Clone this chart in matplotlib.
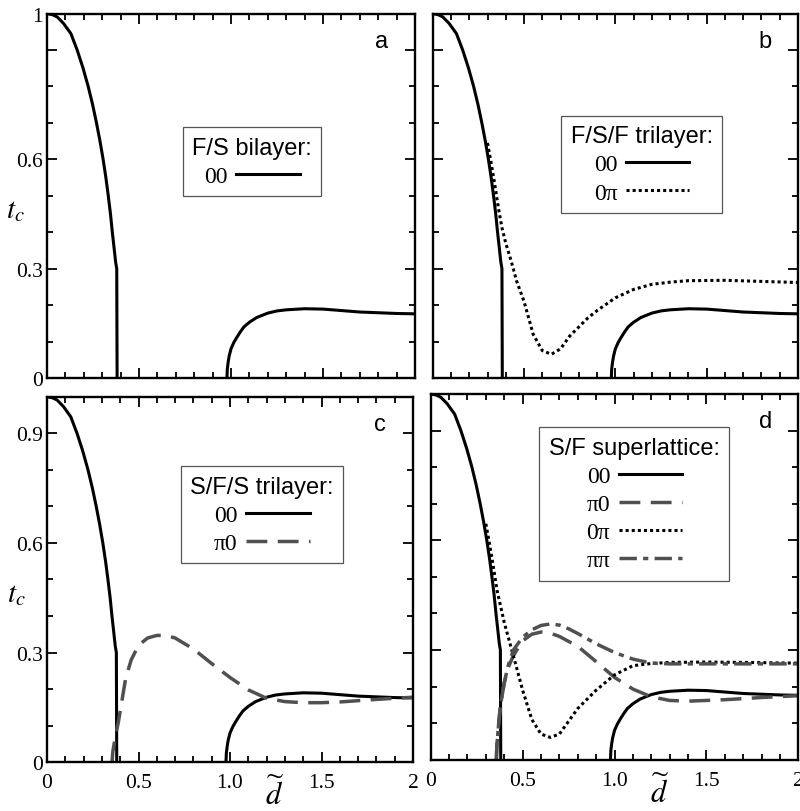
import matplotlib
matplotlib.use("Agg")
import matplotlib.pyplot as plt
from matplotlib.ticker import MultipleLocator
from matplotlib.lines import Line2D

plt.rcParams['font.family'] = ['Liberation Serif', 'DejaVu Serif']
plt.rcParams['mathtext.fontset'] = 'stix'

# 00 state (same in all panels)
d_00a = [0, 0.03, 0.055, 0.09, 0.13, 0.164, 0.195, 0.224, 0.248, 0.269, 0.288, 0.305, 0.32,
         0.333, 0.345, 0.355, 0.365, 0.373, 0.379, 0.381]
tc_00a = [1.0, 0.997, 0.991, 0.973, 0.945, 0.9, 0.852, 0.8, 0.75, 0.7, 0.65, 0.6, 0.55,
          0.5, 0.45, 0.4, 0.355, 0.318, 0.30, 0.0]
d_00b = [0.978, 0.98, 0.985, 0.99, 1.0, 1.015, 1.03, 1.05, 1.07, 1.1, 1.14, 1.2, 1.25, 1.3,
         1.4, 1.5, 1.6, 1.7, 1.8, 1.9, 2.0]
tc_00b = [0, 0.025, 0.045, 0.06, 0.08, 0.097, 0.11, 0.126, 0.14, 0.153, 0.166, 0.178, 0.184, 0.187,
          0.19, 0.189, 0.185, 0.181, 0.179, 0.177, 0.176]

# F/S/F trilayer, 0pi
d_0pi_b = [0.30, 0.32, 0.34, 0.36, 0.38, 0.40, 0.43, 0.46, 0.50, 0.55, 0.60, 0.65, 0.70, 0.75,
           0.80, 0.85, 0.90, 1.0, 1.1, 1.2, 1.3, 1.4, 1.6, 1.8, 2.0]
tc_0pi_b = [0.645, 0.59, 0.53, 0.465, 0.41, 0.37, 0.32, 0.265, 0.21, 0.12, 0.075, 0.065, 0.08, 0.115,
            0.14, 0.165, 0.185, 0.22, 0.243, 0.257, 0.263, 0.267, 0.268, 0.265, 0.262]

# S/F/S trilayer, pi0
d_pi0_c = [0.355, 0.36, 0.37, 0.38, 0.39, 0.41, 0.43, 0.46, 0.5, 0.55, 0.6, 0.65, 0.7, 0.8, 0.9,
           1.0, 1.1, 1.2, 1.3, 1.4, 1.5, 1.6, 1.8, 2.0]
tc_pi0_c = [0, 0.03, 0.06, 0.085, 0.11, 0.17, 0.23, 0.28, 0.32, 0.34, 0.347, 0.347, 0.34, 0.31, 0.27,
            0.232, 0.198, 0.175, 0.166, 0.163, 0.163, 0.165, 0.172, 0.178]

# S/F superlattice
d_pi0_d = [0.357, 0.36, 0.37, 0.38, 0.40, 0.42, 0.45, 0.5, 0.55, 0.6, 0.65, 0.7, 0.8, 0.9,
           1.0, 1.1, 1.2, 1.3, 1.4, 1.6, 1.8, 2.0]
tc_pi0_d = [0, 0.04, 0.10, 0.15, 0.21, 0.25, 0.285, 0.325, 0.343, 0.349, 0.346, 0.337, 0.31, 0.268,
            0.225, 0.193, 0.172, 0.162, 0.16, 0.164, 0.17, 0.175]
d_0pi_d = [0.30, 0.32, 0.34, 0.36, 0.38, 0.40, 0.43, 0.46, 0.50, 0.55, 0.60, 0.65, 0.70, 0.75,
           0.80, 0.85, 0.90, 1.0, 1.1, 1.2, 1.3, 1.5, 1.7, 2.0]
tc_0pi_d = [0.645, 0.59, 0.53, 0.465, 0.42, 0.375, 0.32, 0.265, 0.19, 0.11, 0.07, 0.061, 0.07, 0.105,
            0.14, 0.165, 0.19, 0.232, 0.257, 0.263, 0.266, 0.267, 0.266, 0.264]
d_pipi_d = [0.357, 0.36, 0.37, 0.38, 0.40, 0.42, 0.45, 0.5, 0.55, 0.6, 0.65, 0.7, 0.75, 0.8,
            0.9, 1.0, 1.1, 1.2, 1.3, 1.5, 1.7, 2.0]
tc_pipi_d = [0, 0.04, 0.10, 0.15, 0.21, 0.255, 0.30, 0.335, 0.355, 0.367, 0.371, 0.368, 0.358, 0.345,
             0.317, 0.293, 0.275, 0.264, 0.262, 0.262, 0.262, 0.262]

GRAY = '#505050'
LW = 2.2
solid = dict(color='black', lw=LW)
dashed = dict(color=GRAY, lw=2.5, dashes=(6, 3))
dotted = dict(color='black', lw=LW, dashes=(1, 1))
dashdot = dict(color=GRAY, lw=2.5, dashes=(5, 1.8, 1.5, 1.8))

fig = plt.figure(figsize=(8, 8.12), dpi=100)
ax_a = fig.add_axes([0.05875, 0.5333, 0.46, 0.4487])
ax_b = fig.add_axes([0.5409, 0.5333, 0.4566, 0.4487])
ax_c = fig.add_axes([0.05875, 0.0600, 0.4575, 0.4502])
ax_d = fig.add_axes([0.5384, 0.0632, 0.4595, 0.4504])


def setup(ax, letter, xlabels, ylabels, top_one):
    ax.set_xlim(0, 2)
    ax.set_ylim(0, 1)
    for s in ax.spines.values():
        s.set_linewidth(1.7)
    ax.xaxis.set_minor_locator(MultipleLocator(0.1))
    ax.yaxis.set_minor_locator(MultipleLocator(0.1))
    ax.set_xticks([0, 0.5, 1.0, 1.5, 2.0])
    ax.set_xticklabels(['0', '0.5', '1.0', '1.5', '2'] if xlabels else [])
    if top_one:
        ax.set_yticks([0, 0.3, 0.6, 0.9, 1.0])
        ax.set_yticklabels(['0', '0.3', '0.6', '', '1'] if ylabels else [])
    else:
        ax.set_yticks([0, 0.3, 0.6, 0.9])
        ax.set_yticklabels(['0', '0.3', '0.6', '0.9'] if ylabels else [])
    ax.tick_params(which='both', direction='in', top=True, right=True, width=1.3, labelsize=15.5)
    ax.tick_params(which='major', length=7.5)
    ax.tick_params(which='minor', length=4)
    ax.tick_params(axis='x', pad=8)
    ax.tick_params(axis='y', pad=3)
    ax.text(0.91, 0.925, letter, transform=ax.transAxes, ha='center', va='center',
            fontsize=17, family='Liberation Sans')
    if ylabels:
        ax.text(-0.085, 0.46, r'$t_c$', transform=ax.transAxes, ha='center', va='center', fontsize=21)
    if xlabels:
        ax.text(0.623, -0.115, r'$\widetilde{d}$', transform=ax.transAxes, ha='center', va='baseline',
                fontsize=22)


def add_legend(ax, title, entries, center):
    handles = [Line2D([], [], **st) for st in entries.values()]
    leg = ax.legend(handles, list(entries.keys()), title=title, loc='center',
                    bbox_to_anchor=center, markerfirst=False, fancybox=False,
                    prop={'family': 'Liberation Serif', 'size': 17},
                    title_fontproperties={'family': 'Liberation Sans', 'size': 17},
                    handlelength=2.7, handletextpad=0.35, labelspacing=0.28,
                    borderpad=0.4, framealpha=1)
    leg.get_frame().set_edgecolor('#555555')
    leg.get_frame().set_linewidth(0.9)


setup(ax_a, 'a', False, True, True)
setup(ax_b, 'b', False, False, True)
setup(ax_c, 'c', True, True, False)
setup(ax_d, 'd', True, False, False)

for ax in (ax_a, ax_b, ax_c, ax_d):
    ax.plot(d_00a, tc_00a, **solid)
    ax.plot(d_00b, tc_00b, **solid)

ax_b.plot(d_0pi_b, tc_0pi_b, **dotted)
ax_c.plot(d_pi0_c, tc_pi0_c, **dashed)
ax_d.plot(d_pi0_d, tc_pi0_d, **dashed)
ax_d.plot(d_0pi_d, tc_0pi_d, **dotted)
ax_d.plot(d_pipi_d, tc_pipi_d, **dashdot)

add_legend(ax_a, 'F/S bilayer:', {'00': solid}, (0.557, 0.593))
add_legend(ax_b, 'F/S/F trilayer:', {'00': solid, '0\u03c0': dotted}, (0.572, 0.586))
add_legend(ax_c, 'S/F/S trilayer:', {'00': solid, '\u03c00': dashed}, (0.587, 0.677))
add_legend(ax_d, 'S/F superlattice:', {'00': solid, '\u03c00': dashed, '0\u03c0': dotted,
                                        '\u03c0\u03c0': dashdot}, (0.554, 0.699))

fig.savefig('out.png', dpi=100)
